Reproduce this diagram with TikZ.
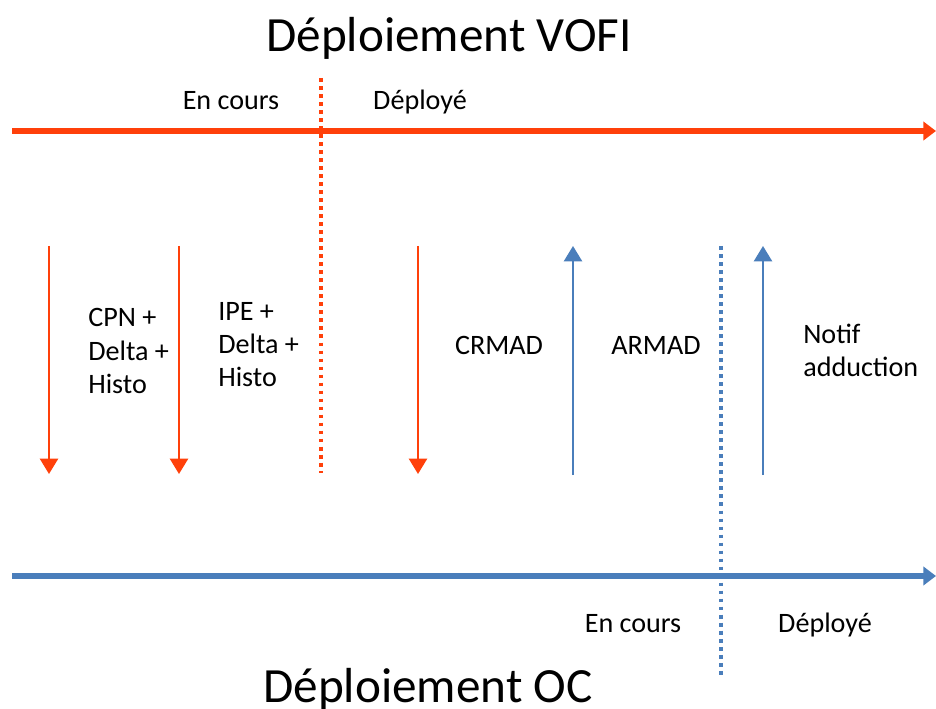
\documentclass[tikz,border=0pt]{standalone}
\usepackage{fontspec}
\setmainfont{Carlito}
\usetikzlibrary{positioning,arrows.meta}
\definecolor{rougevofi}{RGB}{255,64,10}
\definecolor{bleuoc}{RGB}{74,126,187}

\begin{document}
\begin{tikzpicture}[
    x=0.025cm, y=-0.025cm,
    >=Triangle,
    titre/.style={font=\fontsize{35}{42}\selectfont, inner sep=0pt},
    etiq/.style={font=\fontsize{20}{23.5}\selectfont, inner sep=0pt},
    bloc/.style={etiq, align=left, anchor=west},
    axe/.style={line width=4.3pt, -{Triangle[length=9pt,width=13pt]}},
    fleche/.style={line width=1.4pt, -{Triangle[length=11pt,width=13pt]}},
    limite/.style={line width=2.7pt, dash pattern=on 2.7pt off 3pt}
]
  \useasboundingbox (0,0) rectangle (936,709);

  % titres
  \node[titre, anchor=base] (vofi) at (449,52) {Déploiement VOFI};
  \node[titre, anchor=base] (oc) at (428,702) {Déploiement OC};

  % axe VOFI
  \coordinate (vofiDeb) at (12,131);
  \coordinate (vofiFin) at (936,131);
  \draw[axe, rougevofi] (vofiDeb) -- (vofiFin);
  \coordinate (vofiHaut) at (321,78);
  \coordinate (vofiBas) at (321,473);
  \draw[limite, rougevofi] (vofiHaut) -- (vofiBas);
  \node[etiq, anchor=base] (vofiCours) at (231,110) {En cours};
  \node[etiq, anchor=base] (vofiDep) at (420,110) {Déployé};

  % axe OC
  \coordinate (ocDeb) at (12,576);
  \coordinate (ocFin) at (936,576);
  \draw[axe, bleuoc] (ocDeb) -- (ocFin);
  \coordinate (ocHaut) at (721,246);
  \coordinate (ocBas) at (721,676);
  \draw[limite, bleuoc] (ocHaut) -- (ocBas);
  \node[etiq, anchor=base] (ocCours) at (633,632) {En cours};
  \node[etiq, anchor=base] (ocDep) at (825,632) {Déployé};

  % flux VOFI vers OC
  \coordinate (cpnH) at (49,246);
  \coordinate (cpnB) at (49,474);
  \draw[fleche, rougevofi] (cpnH) -- (cpnB);
  \node[bloc] (cpn) at (88,351) {CPN +\\Delta +\\Histo};

  \coordinate (ipeH) at (179,246);
  \coordinate (ipeB) at (179,474);
  \draw[fleche, rougevofi] (ipeH) -- (ipeB);
  \node[bloc] (ipe) at (218,345) {IPE +\\Delta +\\Histo};

  \coordinate (crmadH) at (418,246);
  \coordinate (crmadB) at (418,474);
  \draw[fleche, rougevofi] (crmadH) -- (crmadB);
  \node[etiq, anchor=base] (crmad) at (499,354) {CRMAD};

  % flux OC vers VOFI
  \coordinate (armadB) at (573,475);
  \coordinate (armadH) at (573,246);
  \draw[fleche, bleuoc] (armadB) -- (armadH);
  \node[etiq, anchor=base] (armad) at (656,354) {ARMAD};

  \coordinate (notifB) at (763,475);
  \coordinate (notifH) at (763,246);
  \draw[fleche, bleuoc] (notifB) -- (notifH);
  \node[bloc] (notif) at (803,350) {Notif\\adduction};

\end{tikzpicture}
\end{document}
